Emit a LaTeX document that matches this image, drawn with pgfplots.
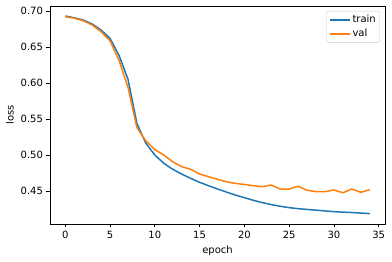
\documentclass[border=0pt]{standalone}
\usepackage{fontspec}
\setmainfont{DejaVu Sans}
\usepackage{pgfplots}
\pgfplotsset{compat=1.18}
\definecolor{tabblue}{HTML}{1F77B4}
\definecolor{taborange}{HTML}{FF7F0E}
\begin{document}
\begin{tikzpicture}
\begin{axis}[
  scale only axis, width=335pt, height=218pt,
  xmin=-1.7, xmax=35.7, ymin=0.4046, ymax=0.7074,
  xtick={0,5,10,15,20,25,30,35},
  ytick={0.45,0.50,0.55,0.60,0.65,0.70},
  yticklabel style={/pgf/number format/.cd, fixed, fixed zerofill, precision=2},
  /pgf/number format/assume math mode=true,
  tick label style={font=\fontsize{10}{12}\selectfont},
  label style={font=\fontsize{10}{12}\selectfont},
  tick align=outside, tick pos=left, major tick length=3.5pt,
  axis line style={line width=0.8pt},
  every tick/.style={black, line width=0.8pt},
  xlabel=epoch, ylabel=loss,
  legend style={at={(1,1)}, anchor=north east, xshift=-5pt, yshift=-5pt,
    draw=black!20, rounded corners=2pt, font=\fontsize{10}{12}\selectfont,
    inner sep=2pt, row sep=1pt},
  legend cell align=left,
  legend image code/.code={\draw[#1] (0pt,0pt) -- (20pt,0pt);},
  legend image post style={line width=2pt},
]
\addplot[tabblue, line width=1.5pt] coordinates {
(0,0.6935)(1,0.691)(2,0.688)(3,0.6824)(4,0.674)(5,0.6625)(6,0.639)(7,0.606)(8,0.5444)(9,0.5167)
(10,0.5004)(11,0.489)(12,0.4806)(13,0.474)(14,0.468)(15,0.4625)(16,0.4578)(17,0.4532)(18,0.449)(19,0.4448)
(20,0.4412)(21,0.4375)(22,0.4343)(23,0.4316)(24,0.4292)(25,0.4273)(26,0.4259)(27,0.4248)(28,0.4238)(29,0.4228)
(30,0.4217)(31,0.4211)(32,0.4205)(33,0.4198)(34,0.419)};
\addlegendentry{train}
\addplot[taborange, line width=1.5pt] coordinates {
(0,0.6925)(1,0.6905)(2,0.687)(3,0.681)(4,0.6717)(5,0.659)(6,0.632)(7,0.595)(8,0.5385)(9,0.520)
(10,0.508)(11,0.5004)(12,0.491)(13,0.4842)(14,0.4806)(15,0.474)(16,0.4703)(17,0.4667)(18,0.4633)(19,0.461)
(20,0.4595)(21,0.4578)(22,0.4564)(23,0.4587)(24,0.4532)(25,0.4532)(26,0.457)(27,0.4514)(28,0.4495)(29,0.4495)
(30,0.4518)(31,0.448)(32,0.4532)(33,0.4486)(34,0.4522)};
\addlegendentry{val}
\end{axis}
\useasboundingbox (-50pt,-38pt) rectangle (342pt,224pt);
\end{tikzpicture}
\end{document}
